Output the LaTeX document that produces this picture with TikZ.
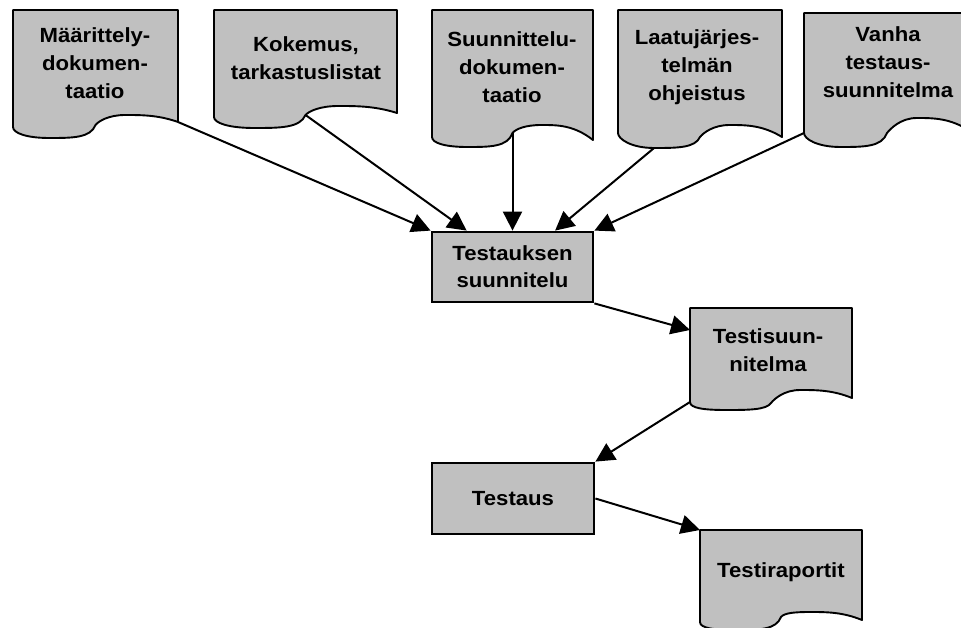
\documentclass[tikz,border=0pt]{standalone}
\usepackage{fontspec}
\setmainfont{Liberation Sans}[FakeStretch=1.08]
\usetikzlibrary{arrows.meta,calc}
\definecolor{docgray}{RGB}{192,192,192}
\tikzset{
  docline/.style={draw=black, line width=1.9pt, fill=docgray, line join=round},
  doctext/.style={align=center, inner sep=0pt, font=\fontsize{20.5}{28}\selectfont\bfseries},
  procbox/.style={draw=black, line width=2.8pt, fill=docgray, inner sep=0pt,
    minimum width=161pt, minimum height=70pt, align=center,
    font=\fontsize{20.5}{27}\selectfont\bfseries},
  flow/.style={line width=2pt, -{Triangle[length=19pt,width=19pt]}},
}
% Document symbol with a wavy lower edge.
% #1 name, #2 left x, #3 y of lower left corner, #4 width, #5 height above that corner,
% #6 right end offset, #7 depth of lower bulge, #8 hump offset, #9 notch offset
\newcommand\docshape[9]{%
  \begin{scope}[shift={(#2,#3)}, x=#4pt]
    \draw[docline] (0,-#5) -- (1,-#5) -- (1,#6)
      .. controls (0.88,#8) and (0.78,#8) .. (0.68,#8)
      .. controls (0.58,#8) and (0.52,#9-4) .. (0.5,#9)
      .. controls (0.47,#7) and (0.36,#7) .. (0.22,#7)
      .. controls (0.08,#7) and (0,6) .. (0,0) -- cycle;
    \coordinate (#1-top) at (0,-#5);
    \coordinate (#1-corner) at (0,0);
    \coordinate (#1-bulge) at (0.22,#7);
    \coordinate (#1-cusp) at (0.5,#9);
    \coordinate (#1-end) at (1,#6);
  \end{scope}}
\begin{document}
\begin{tikzpicture}[x=1pt, y=-1pt]
  \path[use as bounding box, fill=white] (0,0) rectangle (961,628);
  \clip (0,0) rectangle (961,628);

  % input documents
  \docshape{mdoc}{13}{127}{165}{117}{-5}{11}{-12}{-2}
  \docshape{kdoc}{214}{117}{183}{107}{-4}{11}{-11}{-2}
  \docshape{sdoc}{432}{137}{161}{127}{3}{10}{-12}{-4}
  \docshape{ldoc}{618}{133}{164}{123}{4}{15}{-8}{4}
  \docshape{vdoc}{804}{133}{166}{120}{-2}{14}{-15}{0}

  \node[doctext] (mtxt) at (95,63) {Määrittely-\\dokumen-\\taatio};
  \node[doctext] (ktxt) at (306,58) {Kokemus,\\tarkastuslistat};
  \node[doctext] (stxt) at (512,67) {Suunnittelu-\\dokumen-\\taatio};
  \node[doctext] (ltxt) at (697,67) {Laatujärjes-\\telmän\\ohjeistus};
  \node[doctext] (vtxt) at (888,62) {Vanha\\testaus-\\suunnitelma};

  % planning step
  \node[procbox] (plan) at (512.5,267) {Testauksen\\suunnitelu};

  % test plan document
  \docshape{tsdoc}{690}{402}{162}{94}{-4}{8}{-12}{1}
  \node[doctext] (tstxt) at (768,350) {Testisuun-\\nitelma};
  \coordinate (tsdoc-in) at (690,330);

  % testing step
  \node[procbox, minimum width=162pt, minimum height=71pt] (test) at (513,498.5) {Testaus};

  % test report document
  \docshape{trdoc}{700}{622}{162}{92}{-2}{8}{-10}{-5}
  \node[doctext] (trtxt) at (781,572) {Testiraportit};

  % flows into the planning step
  \draw[flow] (mdoc-end) -- (plan.north west);
  \draw[flow] (kdoc-cusp) -- ($(plan.north west)!0.22!(plan.north east)$);
  \draw[flow] (sdoc-cusp) -- (sdoc-cusp |- plan.north);
  \draw[flow] (ldoc-bulge) -- ($(plan.north west)!0.76!(plan.north east)$);
  \draw[flow] (vdoc-corner) -- (plan.north east);

  % main sequence
  \draw[flow] (plan.south east) -- (tsdoc-in);
  \draw[flow] (tsdoc-corner) -- (test.north east);
  \draw[flow] (test.east) -- (trdoc-top);
\end{tikzpicture}
\end{document}
